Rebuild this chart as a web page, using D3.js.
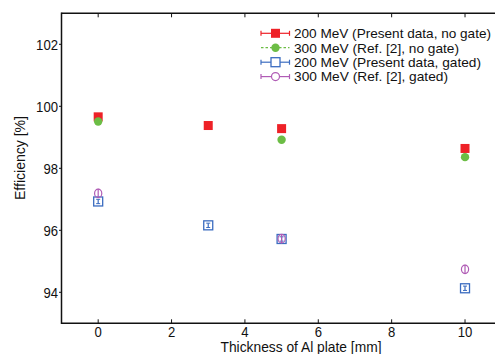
<!DOCTYPE html>
<html><head><meta charset="utf-8">
<script src="https://cdn.jsdelivr.net/npm/d3@7"></script>
<style>body{margin:0;background:#fff}svg{display:block}text{font-family:'Liberation Sans','Arimo',Arial,Helvetica,sans-serif;fill:#111}</style>
</head><body><div id="chart"></div>
<script>
const seriesNames = ["200 MeV (Present data, no gate)","300 MeV (Ref. [2], no gate)","200 MeV (Present data, gated)","300 MeV (Ref. [2], gated)"];
const red200NoGateX = [0,3,5,10];
const red200NoGateY = [99.66,99.38,99.28,98.64];
const green300NoGateX = [0,5,10];
const green300NoGateY = [99.51,98.92,98.36];
const blue200GatedX = [0,3,5,10];
const blue200GatedY = [96.93,96.16,95.72,94.13];
const blue200GatedErr = [0.07,0.07,0.07,0.07];
const purple300GatedX = [0,5,10];
const purple300GatedY = [97.19,95.73,94.74];
const purple300GatedErr = [0.15,0.15,0.15];
const xTicks = [0,2,4,6,8,10];
const yTicks = [94,96,98,100,102];
const xTitle = "Thickness of Al plate [mm]";
const yTitle = "Efficiency [%]";

const W=495,H=354;
const FF="'Liberation Sans','Arimo',Arial,Helvetica,sans-serif";
const svg=d3.select("#chart").append("svg").attr("width",W).attr("height",H).attr("font-family",FF);
const x=d3.scaleLinear().domain([-1,11]).range([61.5,501.7]);
const y=d3.scaleLinear().domain([93,103]).range([323.3,13.3]);
const col={red:"#ee2127",green:"#6cbd45",blue:"#3b6cc0",purple:"#b05cb5"};

// axes
const ax=svg.append("g").attr("stroke","#111").attr("stroke-width",1.5).attr("fill","none");
ax.append("line").attr("x1",x(-1)).attr("x2",W+5).attr("y1",y(93)).attr("y2",y(93));
ax.append("line").attr("x1",x(-1)).attr("x2",W+5).attr("y1",y(103)).attr("y2",y(103));
ax.append("line").attr("x1",x(-1)).attr("x2",x(-1)).attr("y1",y(93)+0.75).attr("y2",y(103)-0.75);

const tk=svg.append("g").attr("stroke","#111").attr("stroke-width",1);
xTicks.forEach(t=>{
  tk.append("line").attr("x1",x(t)).attr("x2",x(t)).attr("y1",y(93)).attr("y2",y(93)-4);
  tk.append("line").attr("x1",x(t)).attr("x2",x(t)).attr("y1",y(103)).attr("y2",y(103)+4);
});
yTicks.forEach(t=>{
  tk.append("line").attr("x1",x(-1)).attr("x2",x(-1)-2.5).attr("y1",y(t)).attr("y2",y(t));
});
const dw=7.3; // digit width in reference
svg.append("g").selectAll("text").data(xTicks).join("text")
  .attr("x",d=>x(d)).attr("y",336.5).attr("text-anchor","middle").attr("font-size",14.5)
  .attr("textLength",d=>String(d).length*dw).attr("lengthAdjust","spacingAndGlyphs").text(d=>d);
svg.append("g").selectAll("text").data(yTicks).join("text")
  .attr("x",x(-1)-3.5).attr("y",d=>y(d)+5.2).attr("text-anchor","end").attr("font-size",14.5)
  .attr("textLength",d=>String(d).length*dw).attr("lengthAdjust","spacingAndGlyphs").text(d=>d);

svg.append("text").attr("x",301).attr("y",352).attr("text-anchor","middle").attr("font-size",15)
  .attr("textLength",161).attr("lengthAdjust","spacingAndGlyphs").text(xTitle);
svg.append("text").attr("transform","translate(24.5,158) rotate(-90)").attr("text-anchor","middle").attr("font-size",15)
  .attr("textLength",84).attr("lengthAdjust","spacingAndGlyphs").text(yTitle);

// data
const g=svg.append("g");
function sq(sel,cx,cy,s,fill,stroke){
  sel.append("rect").attr("x",cx-s/2).attr("y",cy-s/2).attr("width",s).attr("height",s)
    .attr("fill",fill).attr("stroke",stroke).attr("stroke-width",fill==="none"?1.3:0);
}
// blue gated
blue200GatedX.forEach((xv,i)=>{
  const cx=x(xv),cy=y(blue200GatedY[i]);
  sq(g,cx,cy,9,"none",col.blue);
  const e1=y(blue200GatedY[i]+blue200GatedErr[i]),e2=y(blue200GatedY[i]-blue200GatedErr[i]);
  g.append("line").attr("x1",cx).attr("x2",cx).attr("y1",e1).attr("y2",e2).attr("stroke",col.blue).attr("stroke-width",1.2);
  [e1,e2].forEach(e=>g.append("line").attr("x1",cx-2).attr("x2",cx+2).attr("y1",e).attr("y2",e).attr("stroke",col.blue).attr("stroke-width",1));
});
// purple gated
purple300GatedX.forEach((xv,i)=>{
  const cx=x(xv),cy=y(purple300GatedY[i]);
  g.append("ellipse").attr("cx",cx).attr("cy",cy).attr("rx",3.6).attr("ry",4.2).attr("fill","none").attr("stroke",col.purple).attr("stroke-width",1.2);
  const e1=y(purple300GatedY[i]+purple300GatedErr[i]),e2=y(purple300GatedY[i]-purple300GatedErr[i]);
  g.append("line").attr("x1",cx).attr("x2",cx).attr("y1",e1).attr("y2",e2).attr("stroke",col.purple).attr("stroke-width",1.2);
});
// red
red200NoGateX.forEach((xv,i)=>sq(g,x(xv),y(red200NoGateY[i]),9,col.red,"none"));
// green
green300NoGateX.forEach((xv,i)=>g.append("circle").attr("cx",x(xv)).attr("cy",y(green300NoGateY[i])).attr("r",4.2).attr("fill",col.green));

// legend
const lg=svg.append("g");
const ly=[33.3,47.7,62.2,76.6], lx1=261, lx2=289.5, lm=275.5;
const lw=[197,165,187,154];
const lcols=[col.red,col.green,col.blue,col.purple];
ly.forEach((yy,i)=>{
  const c=lcols[i];
  lg.append("line").attr("x1",lx1).attr("x2",lx2).attr("y1",yy).attr("y2",yy).attr("stroke",c).attr("stroke-width",1.2)
    .attr("stroke-dasharray",i===1?"2.5,2":null);
  if(i!==1){[lx1,lx2].forEach(xx=>lg.append("line").attr("x1",xx).attr("x2",xx).attr("y1",yy-2.5).attr("y2",yy+2.5).attr("stroke",c).attr("stroke-width",1.2));}
  if(i===0) sq(lg,lm,yy,9,c,"none");
  if(i===1) lg.append("circle").attr("cx",lm).attr("cy",yy).attr("r",4.2).attr("fill",c);
  if(i===2) {lg.append("rect").attr("x",lm-4.5).attr("y",yy-4.5).attr("width",9).attr("height",9).attr("fill","#fff").attr("stroke",c).attr("stroke-width",1.3);}
  if(i===3) lg.append("ellipse").attr("cx",lm).attr("cy",yy).attr("rx",4).attr("ry",4).attr("fill","#fff").attr("stroke",c).attr("stroke-width",1.2);
  lg.append("text").attr("x",294).attr("y",yy+4.8).attr("font-size",13.5)
    .attr("textLength",lw[i]).attr("lengthAdjust","spacingAndGlyphs").text(seriesNames[i]);
});
</script></body></html>
